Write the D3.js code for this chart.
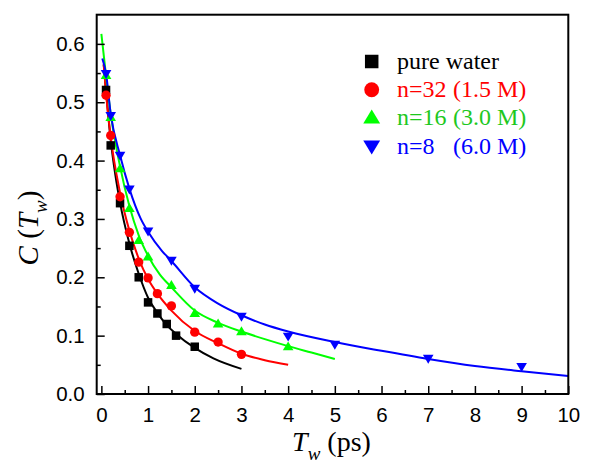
<!DOCTYPE html>
<html><head><meta charset="utf-8">
<script src="https://cdn.jsdelivr.net/npm/d3@7"></script>
<style>
html,body{margin:0;padding:0;background:#fff}svg{display:block}
.sans{font-family:"Liberation Sans",Arial,sans-serif}
.serif{font-family:"Liberation Serif","Times New Roman",Times,serif}
</style>
</head><body>
<svg id="chart" width="600" height="467"></svg>
<script>
// ---- data ----
const xTickLabels = ["0","1","2","3","4","5","6","7","8","9","10"];
const yTickLabels = ["0.0","0.1","0.2","0.3","0.4","0.5","0.6"];

const waterX = [0.1,0.2,0.4,0.6,0.8,1.0,1.2,1.4,1.6,2.0];
const waterY = [0.521,0.426,0.327,0.254,0.200,0.157,0.138,0.120,0.100,0.081];
const n32X = [0.1,0.2,0.4,0.6,0.8,1.0,1.2,1.5,2.0,2.5,3.0];
const n32Y = [0.512,0.443,0.338,0.277,0.226,0.199,0.172,0.151,0.106,0.089,0.068];
const n16X = [0.1,0.2,0.4,0.6,0.8,1.0,1.5,2.0,2.5,3.0,4.0];
const n16Y = [0.546,0.474,0.386,0.318,0.263,0.235,0.186,0.138,0.120,0.107,0.081];
const n8X = [0.1,0.2,0.4,0.6,1.0,1.5,2.0,3.0,4.0,5.0,7.0,9.0];
const n8Y = [0.549,0.477,0.409,0.351,0.279,0.229,0.181,0.133,0.099,0.085,0.061,0.047];

// fitted curves
const fitWaterX = [0.05,0.1,0.2,0.3,0.4,0.6,0.8,1.0,1.2,1.4,1.6,2.0,2.4,3.0];
const fitWaterY = [0.565,0.52,0.435,0.375,0.328,0.258,0.206,0.165,0.139,0.118,0.103,0.079,0.061,0.043];
const fitN32X = [0.05,0.1,0.2,0.4,0.6,0.8,1.0,1.2,1.5,2.0,2.5,3.0,3.5,4.0];
const fitN32Y = [0.565,0.515,0.44,0.345,0.28,0.232,0.197,0.172,0.143,0.108,0.087,0.069,0.058,0.050];
const fitN16X = [0.0,0.1,0.2,0.4,0.6,0.8,1.0,1.25,1.5,2.0,2.5,3.0,3.5,4.0,4.5,5.0];
const fitN16Y = [0.617,0.545,0.48,0.39,0.322,0.272,0.237,0.205,0.183,0.143,0.122,0.107,0.094,0.082,0.071,0.060];
const fitN8X = [0.02,0.1,0.2,0.4,0.6,0.84,1.0,1.3,1.5,2.0,2.5,3.0,3.5,4.0,5.0,6.0,7.0,8.0,9.0,10.0];
const fitN8Y = [0.575,0.549,0.48,0.409,0.352,0.301,0.278,0.245,0.228,0.183,0.155,0.135,0.119,0.107,0.089,0.074,0.060,0.048,0.039,0.031];

const legendMain = ["pure water","n=32","n=16","n=8"];
const legendConc = ["","(1.5 M)","(3.0 M)","(6.0 M)"];
const colors = ["#000000","#ff0000","#00ff00","#0000ff"];
const textColors = ["#000000","#ff0000","#1ec81e","#0000ff"];
const shapes = ["square","circle","up","down"];

// ---- chart ----
const svg = d3.select("#chart");
const L = 96.7, R = 568.3, T = 14.7, B = 394;
const x = d3.scaleLinear().domain([-0.1, 10]).range([L, R]);
const y = d3.scaleLinear().domain([0, 0.65]).range([B, T]);

const series = [
  {xs: waterX, ys: waterY, fx: fitWaterX, fy: fitWaterY},
  {xs: n32X, ys: n32Y, fx: fitN32X, fy: fitN32Y},
  {xs: n16X, ys: n16Y, fx: fitN16X, fy: fitN16Y},
  {xs: n8X, ys: n8Y, fx: fitN8X, fy: fitN8Y}
];

function marker(sel, shape, s, color) {
  if (shape === "square") {
    sel.append("rect").attr("x", -s/2).attr("y", -s/2).attr("width", s).attr("height", s).attr("fill", color);
  } else if (shape === "circle") {
    sel.append("circle").attr("r", s*0.55).attr("fill", color);
  } else if (shape === "up") {
    const w = s*1.25, h = s*1.05;
    sel.append("path").attr("d", `M0,${-h*0.6}L${w/2},${h*0.4}L${-w/2},${h*0.4}Z`).attr("fill", color);
  } else {
    const w = s*1.25, h = s*1.05;
    sel.append("path").attr("d", `M0,${h*0.6}L${w/2},${-h*0.4}L${-w/2},${-h*0.4}Z`).attr("fill", color);
  }
}

const line = d3.line().x(d => x(d[0])).y(d => y(d[1])).curve(d3.curveMonotoneX);

const plot = svg.append("g");
series.forEach((s, i) => {
  const pts = s.fx.map((v, k) => [v, s.fy[k]]);
  plot.append("path").datum(pts).attr("d", line)
    .attr("fill", "none").attr("stroke", colors[i]).attr("stroke-width", 2);
});
series.forEach((s, i) => {
  s.xs.forEach((v, k) => {
    const g = plot.append("g").attr("transform", `translate(${x(v)},${y(s.ys[k])})`);
    marker(g, shapes[i], 8.5, colors[i]);
  });
});

// axes (ticks inward)
const xMajor = xTickLabels.map(Number);
const xMinor = d3.range(0.5, 10, 1);
const yMajor = yTickLabels.map(Number);
const yMinor = d3.range(0.05, 0.65, 0.1);

const xAxis = d3.axisBottom(x).tickValues(xMajor).tickSize(-8).tickPadding(13)
  .tickFormat((d, i) => xTickLabels[i]);
const gx = svg.append("g").attr("transform", `translate(0,${B})`).call(xAxis);
gx.attr("font-family", null).attr("font-size", null).attr("class", "sans");
gx.select(".domain").remove();
gx.selectAll("line").attr("stroke", "#000").attr("stroke-width", 1.5);
gx.selectAll("text").attr("font-size", 20.5).attr("fill", "#000");
const gxm = svg.append("g").attr("transform", `translate(0,${B})`)
  .call(d3.axisBottom(x).tickValues(xMinor).tickSize(-4).tickFormat(""));
gxm.select(".domain").remove();
gxm.selectAll("line").attr("stroke", "#000").attr("stroke-width", 1.5);

const yAxis = d3.axisLeft(y).tickValues(yMajor).tickSize(-8).tickPadding(12)
  .tickFormat((d, i) => yTickLabels[i]);
const gy = svg.append("g").attr("transform", `translate(${L},0)`).call(yAxis);
gy.attr("font-family", null).attr("font-size", null).attr("class", "sans");
gy.select(".domain").remove();
gy.selectAll("line").attr("stroke", "#000").attr("stroke-width", 1.5);
gy.selectAll("text").attr("font-size", 20.5).attr("fill", "#000");
const gym = svg.append("g").attr("transform", `translate(${L},0)`)
  .call(d3.axisLeft(y).tickValues(yMinor).tickSize(-4).tickFormat(""));
gym.select(".domain").remove();
gym.selectAll("line").attr("stroke", "#000").attr("stroke-width", 1.5);

// frame
svg.append("rect").attr("x", L).attr("y", T).attr("width", R - L).attr("height", B - T)
  .attr("fill", "none").attr("stroke", "#000").attr("stroke-width", 2);

// axis titles
const xt = svg.append("text").attr("class", "serif").attr("x", 331.5).attr("y", 451).attr("text-anchor", "middle")
  .attr("font-size", 28).attr("fill", "#000");
xt.append("tspan").attr("font-style", "italic").text("T");
xt.append("tspan").attr("font-style", "italic").attr("font-size", 19).attr("dy", 9).text("w");
xt.append("tspan").attr("dy", -9).text(" (ps)");

const yt = svg.append("text").attr("class", "serif").attr("transform", "translate(38,228) rotate(-90)").attr("text-anchor", "middle")
  .attr("font-size", 29).attr("fill", "#000");
yt.append("tspan").attr("font-style", "italic").text("C");
yt.append("tspan").text(" (");
yt.append("tspan").attr("font-style", "italic").text("T");
yt.append("tspan").attr("font-style", "italic").attr("font-size", 19).attr("dy", 9).text("w");
yt.append("tspan").attr("dy", -9).text(")");

// legend
const legY0 = 61.5, legStep = 28.2;
legendMain.forEach((name, i) => {
  const cy = legY0 + i * legStep;
  const g = svg.append("g").attr("transform", `translate(371.7,${cy})`);
  marker(g, shapes[i], 13.5, colors[i]);
  const t = svg.append("text").attr("class", "serif").attr("x", 397).attr("y", cy + 7.5)
    .attr("font-size", 24).attr("fill", textColors[i]);
  t.append("tspan").text(name);
  if (legendConc[i]) t.append("tspan").attr("x", 453).text(legendConc[i]);
});
</script>
</body></html>
